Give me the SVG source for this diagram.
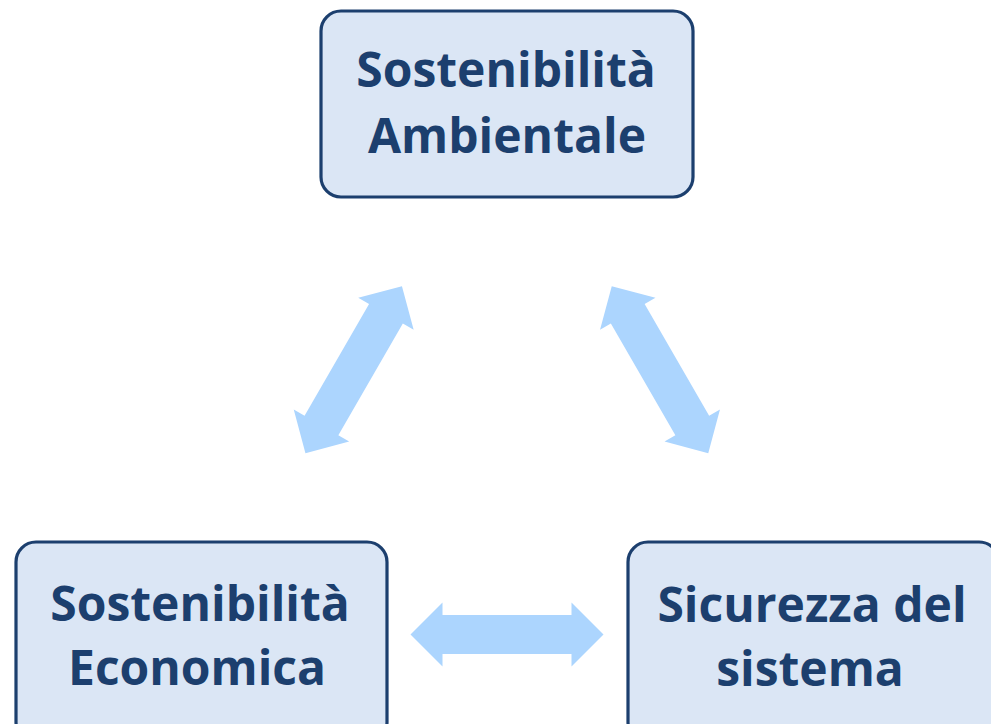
<svg xmlns="http://www.w3.org/2000/svg" width="991" height="724" viewBox="0 0 991 724">
  <defs>
    <style>
      .box { fill: #dbe6f5; stroke: #1c3f6e; stroke-width: 3.2; }
      .lbl { font-family: "Open Sans", "Liberation Sans", sans-serif; font-weight: 700; font-size: 48px; fill: #1c3f6e; text-anchor: middle; }
      .arr { fill: #acd5fe; }
    </style>
    <polygon id="dbl" points="-96.5,0 -64.5,-32 -64.5,-19.5 64.5,-19.5 64.5,-32 96.5,0 64.5,32 64.5,19.5 -64.5,19.5 -64.5,32"/>
  </defs>
  <rect width="991" height="724" fill="#ffffff"/>
  <g id="connectors">
    <use href="#dbl" class="arr" transform="translate(353.7,369.7) rotate(-60)"/>
    <use href="#dbl" class="arr" transform="translate(660,369.7) rotate(60)"/>
    <use href="#dbl" class="arr" transform="translate(507,634.5)"/>
  </g>
  <g id="node-ambientale">
    <rect class="box" x="321" y="11" width="372" height="186" rx="20" ry="20"/>
    <text class="lbl" x="506" y="87">Sostenibilità</text>
    <text class="lbl" x="507" y="153">Ambientale</text>
  </g>
  <g id="node-economica">
    <rect class="box" x="16" y="542" width="371" height="200" rx="20" ry="20"/>
    <text class="lbl" x="200" y="621">Sostenibilità</text>
    <text class="lbl" x="197" y="685">Economica</text>
  </g>
  <g id="node-sicurezza">
    <rect class="box" x="628" y="542" width="371" height="200" rx="20" ry="20"/>
    <text class="lbl" x="812" y="622">Sicurezza del</text>
    <text class="lbl" x="810" y="686">sistema</text>
  </g>
</svg>
